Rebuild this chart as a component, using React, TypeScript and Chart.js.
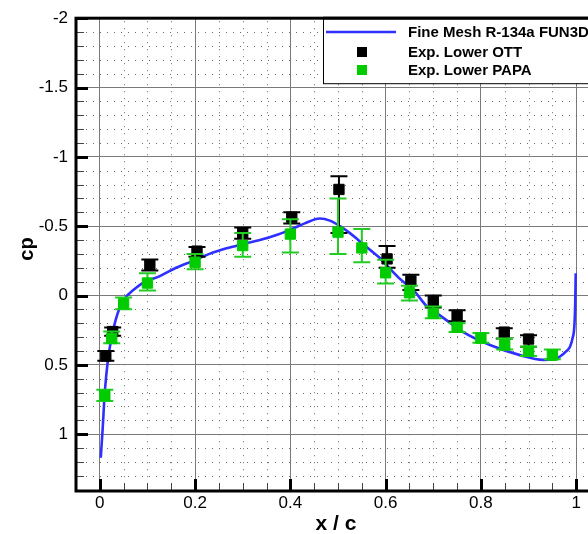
import React, { useEffect, useRef } from 'react';
import { Chart, registerables } from 'chart.js';

Chart.register(...registerables);

// ---- CFD curve (Fine Mesh R-134a FUN3D) ----
const CFD_X = [0.002, 0.006, 0.010, 0.014, 0.018, 0.025, 0.033, 0.042, 0.055, 0.069, 0.09, 0.126, 0.16, 0.196, 0.23, 0.266, 0.30, 0.336, 0.374, 0.40, 0.43, 0.462, 0.483, 0.504, 0.525, 0.546, 0.567, 0.588, 0.61, 0.63, 0.658, 0.687, 0.714, 0.763, 0.819, 0.882, 0.931, 0.955, 0.966, 0.98, 0.987, 0.993, 0.996, 0.998, 0.999];
const CFD_CP = [1.17, 0.96, 0.72, 0.56, 0.44, 0.30, 0.18, 0.086, 0.01, -0.036, -0.09, -0.14, -0.20, -0.25, -0.30, -0.34, -0.37, -0.40, -0.44, -0.475, -0.52, -0.555, -0.54, -0.50, -0.45, -0.39, -0.33, -0.27, -0.19, -0.12, -0.04, 0.08, 0.143, 0.264, 0.357, 0.43, 0.464, 0.46, 0.44, 0.40, 0.37, 0.30, 0.23, 0.05, -0.16];

// ---- Exp. Lower OTT ----
const OTT_X = [0.0126, 0.027, 0.105, 0.204, 0.30, 0.403, 0.502, 0.603, 0.653, 0.70, 0.75, 0.849, 0.90];
const OTT_CP = [0.436, 0.26, -0.22, -0.32, -0.45, -0.565, -0.765, -0.264, -0.105, 0.043, 0.143, 0.264, 0.314];
const OTT_LO = [0.40, 0.23, -0.26, -0.35, -0.49, -0.60, -0.86, -0.357, -0.15, 0.0, 0.107, 0.236, 0.286];
const OTT_HI = [0.47, 0.29, -0.18, -0.28, -0.41, -0.52, -0.45, -0.20, -0.04, 0.086, 0.186, 0.31, 0.37];

// ---- Exp. Lower PAPA ----
const PAPA_X = [0.0105, 0.025, 0.05, 0.10, 0.20, 0.30, 0.40, 0.50, 0.55, 0.60, 0.65, 0.70, 0.75, 0.80, 0.85, 0.90, 0.95];
const PAPA_CP = [0.72, 0.31, 0.06, -0.09, -0.24, -0.36, -0.443, -0.457, -0.343, -0.164, -0.02, 0.129, 0.229, 0.307, 0.357, 0.40, 0.43];
const PAPA_LO = [0.68, 0.26, 0.015, -0.16, -0.30, -0.45, -0.55, -0.70, -0.48, -0.257, -0.07, 0.079, 0.20, 0.27, 0.31, 0.37, 0.39];
const PAPA_HI = [0.76, 0.345, 0.10, -0.036, -0.19, -0.28, -0.31, -0.30, -0.24, -0.086, 0.036, 0.164, 0.264, 0.34, 0.39, 0.436, 0.46];

// ---- axes ----
const X_TICKS = [0, 0.2, 0.4, 0.6, 0.8, 1];
const Y_TICKS = [-2, -1.5, -1, -0.5, 0, 0.5, 1];
const X_MINOR_STEP = 0.05;
const Y_MINOR_STEP = 0.1;
const X_MIN = -0.05;
const X_MAX = 1.05;
const Y_MIN = -2;
const Y_MAX = 1.41;
const X_TITLE = 'x / c';
const Y_TITLE = 'cp';

const LEGEND_LABELS = ['Fine Mesh R-134a FUN3D', 'Exp. Lower OTT', 'Exp. Lower PAPA'];

const FONT = '"Liberation Sans", Arial, Helvetica, sans-serif';
const BLUE = '#2f2fff';
const BLACK = '#000000';
const GREEN = '#00cc00';
const GREEN_BAR = '#22cc22';

const fmt = (v: number) => String(Math.round(v * 100) / 100);

const isMultiple = (v: number, step: number) => Math.abs(v / step - Math.round(v / step)) < 1e-6;

const decorPlugin = {
  id: 'decor',
  beforeDatasetsDraw(chart: any) {
    const { ctx, chartArea: a, scales } = chart;
    const xs = scales.x;
    const ys = scales.y;
    ctx.save();
    // minor dotted grid
    ctx.strokeStyle = '#6a6a6a';
    ctx.lineWidth = 1;
    ctx.setLineDash([1, 6]);
    for (let k = Math.ceil(Y_MIN / Y_MINOR_STEP); k * Y_MINOR_STEP <= Y_MAX; k++) {
      const v = k * Y_MINOR_STEP;
      if (isMultiple(v, 0.5)) continue;
      const py = Math.round(ys.getPixelForValue(v)) + 0.5;
      ctx.beginPath();
      ctx.moveTo(a.left + 3, py);
      ctx.lineTo(a.right, py);
      ctx.stroke();
    }
    for (let k = Math.ceil(X_MIN / X_MINOR_STEP) + 1; k * X_MINOR_STEP < X_MAX; k++) {
      const v = k * X_MINOR_STEP;
      if (isMultiple(v, 0.2)) continue;
      const px = Math.round(xs.getPixelForValue(v)) + 0.5;
      ctx.beginPath();
      ctx.moveTo(px, a.top + 3);
      ctx.lineTo(px, a.bottom);
      ctx.stroke();
    }
    ctx.setLineDash([]);

    // minor ticks (inward)
    ctx.strokeStyle = '#444';
    ctx.lineWidth = 1;
    for (let k = Math.ceil(Y_MIN / Y_MINOR_STEP); k * Y_MINOR_STEP <= Y_MAX; k++) {
      const v = k * Y_MINOR_STEP;
      if (isMultiple(v, 0.5)) continue;
      const py = Math.round(ys.getPixelForValue(v)) + 0.5;
      ctx.beginPath();
      ctx.moveTo(a.left, py);
      ctx.lineTo(a.left + 8, py);
      ctx.stroke();
    }
    for (let k = Math.ceil(X_MIN / X_MINOR_STEP) + 1; k * X_MINOR_STEP < X_MAX; k++) {
      const v = k * X_MINOR_STEP;
      if (isMultiple(v, 0.2)) continue;
      const px = Math.round(xs.getPixelForValue(v)) + 0.5;
      ctx.beginPath();
      ctx.moveTo(px, a.bottom);
      ctx.lineTo(px, a.bottom - 8);
      ctx.stroke();
    }
    // major ticks
    ctx.strokeStyle = '#000';
    ctx.lineWidth = 3;
    Y_TICKS.forEach((v) => {
      const py = Math.round(ys.getPixelForValue(v)) + 0.5;
      ctx.beginPath();
      ctx.moveTo(a.left, py);
      ctx.lineTo(a.left + 12, py);
      ctx.stroke();
    });
    X_TICKS.forEach((v) => {
      const px = Math.round(xs.getPixelForValue(v)) + 0.5;
      ctx.beginPath();
      ctx.moveTo(px, a.bottom);
      ctx.lineTo(px, a.bottom - 12);
      ctx.stroke();
    });
    // frame
    ctx.lineWidth = 3;
    ctx.strokeRect(a.left, a.top, a.right - a.left, a.bottom - a.top);
    ctx.restore();
  },
  beforeDatasetDraw(chart: any, args: any) {
    const ds: any = chart.data.datasets[args.index];
    if (!ds.errLo) return;
    const { ctx } = chart;
    const xs = chart.scales.x;
    const ys = chart.scales.y;
    ctx.save();
    ctx.strokeStyle = ds.errColor;
    ctx.lineWidth = 2;
    ds.data.forEach((p: any, i: number) => {
      const px = xs.getPixelForValue(p.x);
      const p1 = ys.getPixelForValue(ds.errLo[i]);
      const p2 = ys.getPixelForValue(ds.errHi[i]);
      ctx.beginPath();
      ctx.moveTo(px, p1);
      ctx.lineTo(px, p2);
      ctx.moveTo(px - 8.5, p1);
      ctx.lineTo(px + 8.5, p1);
      ctx.moveTo(px - 8.5, p2);
      ctx.lineTo(px + 8.5, p2);
      ctx.stroke();
    });
    ctx.restore();
  },
  afterDraw(chart: any) {
    const { ctx, chartArea: a } = chart;
    ctx.save();
    // axis titles
    ctx.fillStyle = '#000';
    ctx.font = `bold 21px ${FONT}`;
    ctx.textAlign = 'center';
    ctx.textBaseline = 'alphabetic';
    ctx.fillText(X_TITLE, (a.left + a.right) / 2 - 2, 530);
    ctx.save();
    ctx.translate(33, 249);
    ctx.rotate(-Math.PI / 2);
    ctx.font = `bold 20px ${FONT}`;
    ctx.fillText(Y_TITLE, 0, 0);
    ctx.restore();

    // legend
    const lx = 323;
    const ly = a.top;
    ctx.fillStyle = '#fff';
    ctx.fillRect(lx, ly, 300, 65);
    ctx.strokeStyle = '#000';
    ctx.lineWidth = 1;
    ctx.strokeRect(lx + 0.5, ly + 0.5, 300, 65);
    // top frame line redrawn over legend
    ctx.lineWidth = 3;
    ctx.beginPath();
    ctx.moveTo(lx, a.top);
    ctx.lineTo(a.right, a.top);
    ctx.stroke();

    const rows = [32, 52, 70];
    ctx.strokeStyle = BLUE;
    ctx.lineWidth = 2.5;
    ctx.beginPath();
    ctx.moveTo(326, rows[0]);
    ctx.lineTo(396, rows[0]);
    ctx.stroke();
    ctx.fillStyle = BLACK;
    ctx.fillRect(357, rows[1] - 5, 10, 10);
    ctx.fillStyle = GREEN;
    ctx.fillRect(357, rows[2] - 5, 10, 10);
    ctx.fillStyle = '#000';
    ctx.font = `bold 15px ${FONT}`;
    ctx.textAlign = 'left';
    ctx.textBaseline = 'middle';
    LEGEND_LABELS.forEach((t, i) => ctx.fillText(t, 408, rows[i] + 1));
    ctx.restore();
  },
};

export default function App() {
  const ref = useRef<HTMLCanvasElement | null>(null);
  useEffect(() => {
    if (!ref.current) return;
    const chart = new Chart(ref.current, {
      type: 'scatter',
      data: {
        datasets: [
          {
            label: LEGEND_LABELS[0],
            type: 'line',
            data: CFD_X.map((x, i) => ({ x, y: CFD_CP[i] })),
            borderColor: BLUE,
            borderWidth: 2.6,
            pointRadius: 0,
            fill: false,
            cubicInterpolationMode: 'monotone',
            order: 3,
          } as any,
          {
            label: LEGEND_LABELS[1],
            data: OTT_X.map((x, i) => ({ x, y: OTT_CP[i] })),
            pointStyle: 'rect',
            pointRadius: 7.3,
            pointBackgroundColor: BLACK,
            pointBorderColor: BLACK,
            pointBorderWidth: 1,
            errLo: OTT_LO,
            errHi: OTT_HI,
            errColor: BLACK,
            order: 2,
          } as any,
          {
            label: LEGEND_LABELS[2],
            data: PAPA_X.map((x, i) => ({ x, y: PAPA_CP[i] })),
            pointStyle: 'rect',
            pointRadius: 7.3,
            pointBackgroundColor: GREEN,
            pointBorderColor: GREEN,
            pointBorderWidth: 1,
            errLo: PAPA_LO,
            errHi: PAPA_HI,
            errColor: GREEN_BAR,
            order: 1,
          } as any,
        ],
      },
      options: {
        animation: false,
        responsive: false,
        devicePixelRatio: 1,
        layout: { padding: { top: 14, right: 20, left: 0, bottom: 0 } },
        plugins: { legend: { display: false }, tooltip: { enabled: false } },
        scales: {
          x: {
            type: 'linear',
            min: X_MIN,
            max: X_MAX,
            afterBuildTicks: (s: any) => {
              s.ticks = X_TICKS.map((v) => ({ value: v }));
            },
            afterFit: (s: any) => {
              s.height = 43;
            },
            ticks: {
              callback: (v: any) => fmt(Number(v)),
              color: '#000',
              font: { family: FONT, size: 17 },
              padding: 2,
              maxRotation: 0,
              autoSkip: false,
            },
            grid: { color: '#7a7a7a', lineWidth: 1, drawTicks: false },
            border: { display: false },
          },
          y: {
            type: 'linear',
            min: Y_MIN,
            max: Y_MAX,
            reverse: true,
            afterBuildTicks: (s: any) => {
              s.ticks = Y_TICKS.map((v) => ({ value: v }));
            },
            afterFit: (s: any) => {
              s.width = 76;
            },
            ticks: {
              callback: (v: any) => fmt(Number(v)),
              color: '#000',
              font: { family: FONT, size: 17 },
              padding: 8,
              autoSkip: false,
            },
            grid: { color: '#7a7a7a', lineWidth: 1, drawTicks: false },
            border: { display: false },
          },
        },
      },
      plugins: [decorPlugin],
    });
    return () => chart.destroy();
  }, []);

  return (
    <div
      style={{
        position: 'fixed',
        left: 0,
        top: 0,
        width: 588,
        height: 534,
        overflow: 'hidden',
        background: '#fff',
      }}
    >
      <canvas ref={ref} width={620} height={534} style={{ display: 'block', width: 620, height: 534 }} />
    </div>
  );
}
